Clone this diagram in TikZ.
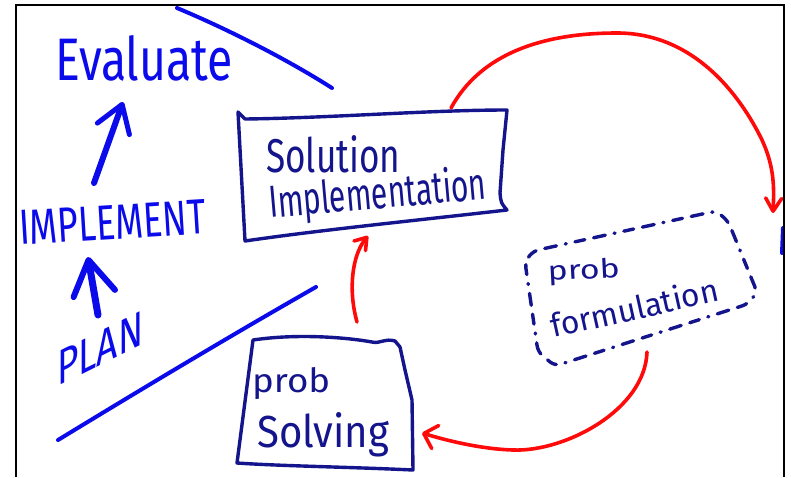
\documentclass[tikz,border=0pt]{standalone}
\usepackage{fontspec}
\usepackage{graphicx}
\usetikzlibrary{arrows.meta}
\newfontfamily\handfont{Fira Sans}
\definecolor{bblue}{RGB}{10,10,235}
\definecolor{navy}{RGB}{20,20,140}
\definecolor{rred}{RGB}{255,10,10}
\tikzset{
  hand/.style={line cap=round, line join=round},
  bluestroke/.style={hand, draw=bblue, line width=4pt},
  boxline/.style={hand, draw=navy, line width=3.4pt},
  dashbox/.style={boxline, dash pattern=on 10pt off 9pt on 12pt off 9pt on 1pt off 9pt, rounded corners=6pt},
  redarrow/.style={hand, draw=rred, line width=3.6pt},
  bluetext/.style={inner sep=0pt, text=bblue, font=\handfont},
  navytext/.style={inner sep=0pt, text=navy, font=\handfont},
  bigarrow/.style={hand, draw=bblue, line width=6pt},
}
\begin{document}
\begin{tikzpicture}[x=1pt,y=-1pt]
\useasboundingbox (0,0) rectangle (791,477);
\fill[white] (0,0) rectangle (791,477);

% left column texts
\node[bluetext, anchor=base west] (eval) at (55,80) {\resizebox{178pt}{45pt}{Evaluate}};
\node[bluetext, anchor=base west, rotate=3.5] (impl) at (20,245) {\resizebox{187pt}{34pt}{IMPLEMENT}};
\node[bluetext, anchor=base west, yslant=0.5] (plan) at (57,387) {\resizebox{86pt}{34pt}{PLAN}};

\coordinate (evalBot) at (123,102);
\coordinate (implTop) at (94,183);
\coordinate (implBot) at (88,257);
\coordinate (planTop) at (98,315);
\draw[bigarrow, -{Straight Barb[length=26pt,width=34pt,line width=5pt,round]}] (implTop) -- (evalBot);
\draw[bigarrow, line width=7pt, -{Straight Barb[length=34pt,width=42pt,line width=6pt,round]}] (planTop) -- (implBot);

% dividing strokes
\draw[bluestroke] (177,8) .. controls (225,28) and (285,58) .. (332,88);
\draw[bluestroke] (58,440) .. controls (140,390) and (230,336) .. (316,287);
\draw[bluestroke, line width=4pt] (783,228) -- (782,253);

% Solution Implementation box
\draw[boxline] (238,112) -- (245,119) .. controls (330,118) and (430,110) .. (507,110)
  -- (503,150) -- (500,193) .. controls (501,203) .. (507,210)
  .. controls (420,220) and (320,230) .. (245,241) -- cycle;
\node[navytext, anchor=base west] (sol) at (266,172) {\resizebox{134pt}{37pt}{Solution}};
\node[navytext, anchor=base west, rotate=5] (imp2) at (270,218) {\resizebox{218pt}{35pt}{Implementation}};
\coordinate (siTop) at (451,108);
\coordinate (siBot) at (368,236);

% prob formulation box (dashed)
\draw[dashbox] (525,262) -- (533,251) -- (716,211) -- (728,221) -- (757,292) -- (748,304) -- (555,366) -- (538,352) -- cycle;
\node[navytext, anchor=base west, rotate=3] (pf1) at (548,281) {\resizebox{72pt}{20pt}{prob}};
\node[navytext, anchor=base west, rotate=12.5] (pf2) at (553,338) {\resizebox{171pt}{25pt}{formulation}};
\coordinate (pfIn) at (773,213);
\coordinate (pfBot) at (647,352);

% prob Solving box
\draw[boxline] (253,340) .. controls (300,333) and (350,338) .. (372,342)
  .. controls (380,344) and (385,338) .. (395,341) -- (400,347) -- (405,370) -- (412,400)
  -- (413,470) .. controls (350,467) and (280,466) .. (237,463) -- cycle;
\node[navytext, anchor=base west] (ps1) at (252,392) {\resizebox{78pt}{25pt}{prob}};
\node[navytext, anchor=base west] (ps2) at (257,447) {\resizebox{132pt}{35pt}{Solving}};
\coordinate (psTop) at (357,322);
\coordinate (psRight) at (422,433);

% red connectors
\draw[redarrow, -{Straight Barb[length=13pt,width=16pt,round]}] (siTop) .. controls (480,55) and (540,33) .. (617,33)
  .. controls (700,33) and (745,105) .. (762,140) .. controls (775,168) and (774,190) .. (pfIn);
\draw[redarrow, -{Straight Barb[length=12pt,width=24pt,round]}] (pfBot) .. controls (645,410) and (565,452) .. (513,450)
  .. controls (480,449) and (445,440) .. (psRight);
\draw[redarrow, -{Straight Barb[length=11pt,width=15pt,round]}] (psTop) .. controls (348,290) and (352,255) .. (siBot);

% frame
\draw[black, line width=1.8pt] (16,477) -- (16,5) -- (784,5) -- (784,477);
\end{tikzpicture}
\end{document}
